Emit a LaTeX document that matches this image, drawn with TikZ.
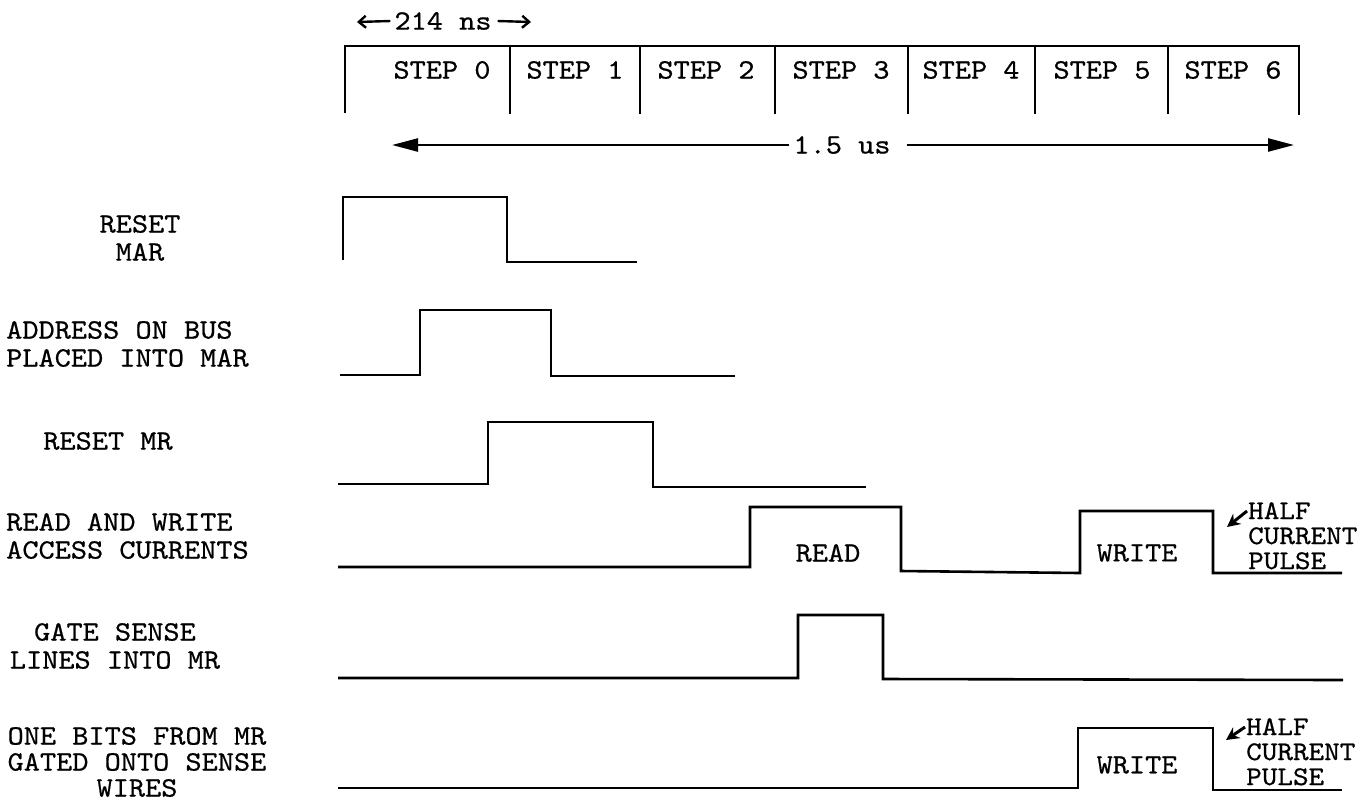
\documentclass[tikz,border=0pt]{standalone}
\usepackage{fontspec}
\newfontfamily\typer{lmmono10-regular.otf}[FakeStretch=1.1, FakeBold=0.6]
\usetikzlibrary{arrows.meta, positioning}

\begin{document}
\begin{tikzpicture}[x=1pt, y=-1pt,
  wave/.style={line width=2.6pt, line join=miter},
  frame/.style={line width=2.2pt},
  txt/.style={font=\typer\fontsize{28}{28}\selectfont, inner sep=0pt},
  sig/.style={txt, align=center},
  bigarr/.style={-{Triangle[length=26pt, width=13pt]}, line width=2.4pt},
  smallarr/.style={-{Straight Barb[length=7pt, width=12pt, line width=2.4pt]}, line width=2.4pt},
  hcarr/.style={-{Stealth[length=13pt, width=13pt]}, line width=3pt}
]
  \useasboundingbox (0,0) rectangle (1372,804);

  % step bar
  \draw[frame] (345,113) -- (345,46) -- (1299,46) -- (1299,115);
  \foreach \x in {510, 640, 775, 908, 1035, 1168} {
    \draw[frame] (\x,46) -- (\x,114);
  }
  \foreach \n/\x in {0/442, 1/575, 2/706, 3/841, 4/971, 5/1102, 6/1233} {
    \node[txt] (step\n) at (\x,70) {STEP \n};
  }

  % timing arrows
  \node[txt] (tns) at (443,21) {214 ns};
  \coordinate (tnsL) at (357,22);
  \coordinate (tnsR) at (531,22);
  \draw[smallarr] ([xshift=-4pt]tns.west) -- (tnsL);
  \draw[smallarr] ([xshift=6pt]tns.east) -- (tnsR);

  \node[txt] (tus) at (842,145) {1.5 us};
  \coordinate (tusL) at (392,145);
  \coordinate (tusR) at (1294,145);
  \draw[bigarr] ([xshift=-4pt]tus.west) -- (tusL);
  \draw[bigarr] ([xshift=16pt]tus.east) -- (tusR);

  % signal names
  \node[sig] (lresetmar) at (140,238) {RESET\\MAR};
  \node[sig, align=left, anchor=west] (laddr) at (6,344) {ADDRESS ON BUS\\PLACED INTO MAR};
  \node[sig] (lresetmr) at (108,441) {RESET MR};
  \node[sig, align=left, anchor=west] (lrw) at (6,536) {READ AND WRITE\\ACCESS CURRENTS};
  \node[sig] (lgate) at (115,646) {GATE SENSE\\LINES INTO MR};
  \node[sig, font=\typer\fontsize{28}{26}\selectfont] (lone) at (137,762) {ONE BITS FROM MR\\GATED ONTO SENSE\\WIRES};

  % waveforms
  \draw[wave] (343,260) -- (343,197) -- (507,197) -- (507,262) -- (637,262);
  \draw[wave] (340,375) -- (420,375) -- (420,310) -- (551,310) -- (551,376) -- (735,376);
  \draw[wave] (338,484) -- (488,484) -- (488,422) -- (653,422) -- (653,487) -- (866,487);
  \draw[wave] (338,567) -- (750,567) -- (750,507) -- (901,507) -- (901,571)
    -- (1080,573) -- (1080,511) -- (1213,511) -- (1213,573) -- (1342,573);
  \draw[wave] (338,678) -- (798,678) -- (798,615) -- (883,615) -- (883,679) -- (1343,680);
  \draw[wave] (338,788) -- (1078,788) -- (1078,728) -- (1213,728) -- (1213,790) -- (1342,790);

  % pulse names
  \node[txt] (read) at (828,553) {READ};
  \node[txt] (writeA) at (1137,553) {WRITE};
  \node[txt] (writeB) at (1137,765) {WRITE};

  \node[txt, align=left, anchor=north west, font=\typer\fontsize{27}{25}\selectfont]
    (halfA) at (1248,502) {HALF\\CURRENT\\PULSE};
  \node[txt, align=left, anchor=north west, font=\typer\fontsize{27}{25}\selectfont]
    (halfB) at (1246,718) {HALF\\CURRENT\\PULSE};
  \coordinate (hcA) at (1227,527);
  \coordinate (hcB) at (1226,740);
  \draw[hcarr] ([shift={(-1pt,-9pt)}]halfA.north west) -- (hcA);
  \draw[hcarr] ([shift={(-1pt,-9pt)}]halfB.north west) -- (hcB);
\end{tikzpicture}
\end{document}
